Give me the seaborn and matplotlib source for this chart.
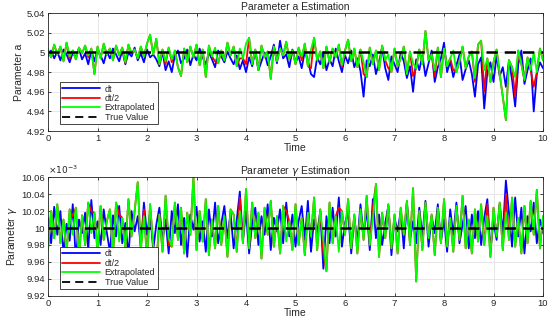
#!/usr/bin/env python3
"""Parameter a / gamma estimation traces -> out.png"""

import matplotlib.pyplot as plt
import numpy as np
import seaborn as sns
from matplotlib.ticker import FuncFormatter, MultipleLocator

# time axis: 161 samples over [0, 10]
t = np.linspace(0, 10, 161)

# parameter a, deviation from 5 in units of 1e-3
a_dt = [
    -4, 2, -6, 1, -8, 3, -2, -10, 0, -5, 4, -7, -1, -12, 2, -9, 3, -3, -11, 1,
    -6, 4, -2, -9, 2, -12, 0, -4, 5, -8, -1, -10, 3, -5, -2, -7, -14, 1, -18, -9,
    -20, -3, 2, -11, -6, 3, -13, -2, -8, 4, -5, -12, 0, -7, -15, 2, -4, -10, 1, -6,
    -12, -3, -17, -8, -20, -5, -14, 2, -18, -9, 0, -13, -4, 8, -11, 12, -6, -2, -15, 3,
    -10, -4, -16, 1, -8, -22, -25, -5, -12, 0, -18, -7, -14, 4, -9, -20, -3, -11, 2, -15,
    -6, -19, -45, -8, -14, -2, -22, -10, 5, -16, -28, -4, -12, -20, 0, -9, -26, -14, -40, -7,
    -18, -3, -24, -11, 2, -30, -15, -6, 10, -20, -9, -25, -13, -2, -28, -17, -8, -22, -45, -12,
    -5, -57, -20, -10, -30, -3, -24, -15, -35, -8, -28, -55, -12, 2, -32, -18, -6, -60, -22, -10,
    -16,
]
a_half = [
    3, -5, 8, -2, 6, -9, 10, -6, 2, -7, 5, -1, 7, -5, 4, -22, 6, -6, 9, -2,
    4, -8, 7, -3, 5, -11, 8, -1, 3, -6, 6, -4, 9, 18, -2, 14, -12, 3, -12, 5,
    -10, 2, -15, -24, 4, -10, 6, -5, 8, -13, 3, -25, 7, -4, -9, -11, 2, -8, 10, -3,
    6, -14, -6, -6, -12, 15, -12, 3, -18, 7, -5, 1, -27, 6, -9, 4, -3, 11, -7, 2,
    -12, 5, -8, 9, -14, -16, 15, -8, 1, -16, 6, -10, 4, -5, 8, -15, 2, 13, -9, 4,
    -15, 3, -22, -25, 5, -12, 2, -18, 7, -8, -16, -20, 4, -14, -6, 6, -22, 1, -24, -16,
    3, -12, 22, -8, -2, -24, 5, -25, 4, -14, -6, -18, -20, -9, 6, -16, -4, 1, -30, 8,
    12, -40, -6, -30, -10, 3, -22, -45, -69, -8, -15, -45, 2, -12, -28, -5, -18, -35, -20, 4,
    -8,
]
a_ex = [
    3, -5, 8, -2, 6, -9, 10, -4, 2, -7, 5, -1, 7, -3, 4, -22, 6, -6, 9, -2,
    4, -8, 7, -3, 5, -10, 8, -1, 3, -6, 6, -4, 9, 18, -2, 14, -12, 3, -9, 5,
    -7, 2, -15, -24, 4, -10, 6, -5, 8, -13, 3, -25, 7, -4, 5, -11, 2, -8, 10, -3,
    6, -14, 4, -6, 9, 15, -12, 3, -18, 7, -5, 1, -27, 6, -9, 4, -3, 11, -7, 2,
    -12, 5, -4, 9, -14, 3, 15, -8, 1, -16, 6, -10, 4, -5, 8, -13, 2, 13, -9, 4,
    -15, 3, -10, -25, 5, -12, 2, -18, 7, -8, -2, -20, 4, -14, -6, 6, -22, 1, -11, -16,
    3, -12, 22, -8, -2, -18, 5, -25, 4, -14, -6, 2, -20, -9, 6, -16, -4, 1, -26, 8,
    12, -18, -6, -30, -10, 3, -22, -45, -69, -8, -15, -25, 2, -12, -28, -5, -18, 0, -20, 4,
    -8,
]

# parameter gamma, deviation from 10e-3 in units of 1e-6
g_dt = [
    12, -18, 25, -8, 20, -30, 5, -15, 28, -38, 10, -6, 18, -25, 33, -12, 8, -20, 22, -5,
    -28, 15, -10, 26, -18, 6, -32, 20, -4, 14, -22, 30, -8, 18, -26, 4, 24, -14, 10, -30,
    20, -6, 28, -20, 12, -34, 16, -2, 25, -16, 8, -28, 22, -10, 30, -18, 5, 26, -12, 18,
    -24, 10, 43, -15, 20, -30, 6, 24, -20, 14, -8, 28, -26, 12, -4, 22, -18, 30, -10, 16,
    -22, 8, 26, -14, 32, -28, 10, -6, 20, -48, 14, -18, 24, -10, 36, -22, 6, 18, -30, 12,
    -16, 28, -8, 22, -26, 34, -12, 16, -20, 6, 26, -32, 12, -4, 20, -24, 30, -14, 8, -18,
    24, -10, 32, -22, 14, -6, 28, -16, 10, -28, 22, -8, 30, -18, 4, 26, -24, 16, -12, 20,
    -20, 12, 34, -26, 8, -14, 28, -6, 56, 18, -22, 36, -10, 24, -30, 14, -4, 30, -18, 10,
    -6,
]
g_half = [
    -25, 20, -12, 28, -18, 10, -30, 22, 14, 24, -35, 15, -20, 30, 20, 18, -28, 26, -14, 8,
    22, -32, 30, 16, 12, -24, 34, -10, 20, 54, -26, 22, -36, 28, -20, -49, 16, -28, 38, -20,
    -22, 30, -14, 24, -30, 18, -8, 60, -26, 20, -16, 34, -32, 10, -24, 26, -20, 14, -34, 22,
    16, -28, 36, -18, 46, -24, 30, -12, 18, -36, 24, -8, 32, -22, 14, -30, 26, 20, 8, -26,
    28, -20, 12, -32, 18, -10, 36, -26, 22, -30, -51, 30, -18, 14, 24, 20, -8, 34, -24, 16,
    -30, 22, -14, 38, -20, 24, 52, -34, 18, -12, 28, -24, 16, -30, 24, -8, 32, -20, 47, -63,
    20, -26, 30, -12, 16, -32, 24, -18, 34, -22, 12, -28, 26, -14, 38, -24, 10, -30, 22, -16,
    28, -20, 28, -34, 24, -10, 30, -26, 40, -14, 36, -22, 12, -30, 26, -18, 32, -8, 45, -24,
    14,
]
g_ex = [
    -25, 20, -12, 28, -18, 10, -30, 22, -8, 24, -35, 15, -20, 30, -6, 18, -28, 26, -14, 8,
    22, -32, 30, -16, 12, -24, 34, -10, 20, 54, -26, 14, -36, 28, -20, -49, 16, -28, 38, -12,
    -22, 30, -14, 24, -30, 18, -8, 60, -26, 20, -16, 34, -32, 10, -24, 26, -20, 14, -34, 22,
    16, -28, 20, -18, 46, -24, 30, -12, 18, -36, 24, -8, 32, -22, 14, -30, 26, -16, 8, -26,
    28, -20, 12, -32, 18, -10, 36, -26, 22, -14, -51, 30, -18, 14, -28, 20, -8, 34, -24, 16,
    -30, 22, -14, 38, -20, 10, 52, -34, 18, -12, 28, -24, 16, -30, 24, -8, 32, -20, 47, -63,
    20, -26, 30, -12, 16, -32, 24, -18, 34, -22, 12, -28, 26, -14, 38, -24, 10, -30, 22, -16,
    28, -20, 14, -34, 24, -10, 30, -26, 18, -14, 36, -22, 12, -30, 26, -18, 32, -8, 45, -24,
    14,
]

A_TRUE = 5.0
G_TRUE = 0.01

sns.set_style("ticks")
plt.rcParams["font.family"] = ["Liberation Sans", "DejaVu Sans"]
plt.rcParams["mathtext.fontset"] = "dejavusans"

fig = plt.figure(figsize=(5.5, 3.22), dpi=100)
ax1 = fig.add_axes([0.0873, 0.593, 0.900, 0.366])
ax2 = fig.add_axes([0.0873, 0.081, 0.900, 0.369])

panels = [
    (ax1, A_TRUE + np.array(a_dt) * 1e-3, A_TRUE + np.array(a_half) * 1e-3,
     A_TRUE + np.array(a_ex) * 1e-3, A_TRUE, "Parameter a Estimation", "Parameter a",
     (4.92, 5.04)),
    (ax2, G_TRUE + np.array(g_dt) * 1e-6, G_TRUE + np.array(g_half) * 1e-6,
     G_TRUE + np.array(g_ex) * 1e-6, G_TRUE, r"Parameter $\gamma$ Estimation",
     r"Parameter $\gamma$", (9.92e-3, 10.06e-3)),
]

for ax, ydt, yhalf, yex, ytrue, title, ylabel, ylim in panels:
    sns.lineplot(x=t, y=ydt, ax=ax, color="#0000ff", lw=1.3, label="dt", sort=False)
    sns.lineplot(x=t, y=yhalf, ax=ax, color="#ff0000", lw=1.3, label="dt/2", sort=False)
    sns.lineplot(x=t, y=yex, ax=ax, color="#00ff00", lw=1.3, label="Extrapolated", sort=False)
    ax.plot([0, 10], [ytrue, ytrue], color="black", lw=1.8, ls=(0, (4.5, 2.8)),
            label="True Value")
    ax.set_xlim(0, 10)
    ax.set_ylim(*ylim)
    ax.xaxis.set_major_locator(MultipleLocator(1))
    ax.set_title(title, fontsize=7.5, pad=2)
    ax.set_xlabel("Time", fontsize=7.5, labelpad=0)
    ax.set_ylabel(ylabel, fontsize=7.5, labelpad=2)
    ax.grid(True, color="#e3e3e3", lw=0.6)
    ax.set_axisbelow(True)
    ax.tick_params(direction="in", length=2.5, width=0.6, labelsize=6.8,
                   top=True, right=True, pad=2, colors="#262626")
    for s in ax.spines.values():
        s.set_linewidth(0.6)
        s.set_color("#262626")
    leg = ax.legend(loc="lower left", fontsize=6.5, handlelength=4.2, handletextpad=0.5,
                    borderpad=0.25, labelspacing=0.05, fancybox=False,
                    edgecolor="#262626", framealpha=1, bbox_to_anchor=(0.015, 0.02))
    leg.get_frame().set_linewidth(0.6)
    for h in leg.get_lines():
        h.set_linewidth(1.3)

ax1.yaxis.set_major_locator(MultipleLocator(0.02))
ax1.yaxis.set_major_formatter(FuncFormatter(lambda v, _: f"{v:g}"))
ax2.yaxis.set_major_locator(MultipleLocator(0.02e-3))
ax2.yaxis.set_major_formatter(FuncFormatter(lambda v, _: f"{round(v * 1e3, 4):g}"))
ax2.text(0.0, 1.01, r"$\times10^{-3}$", transform=ax2.transAxes, fontsize=6.5,
         ha="left", va="bottom", color="#262626")

fig.savefig("out.png", dpi=100)
